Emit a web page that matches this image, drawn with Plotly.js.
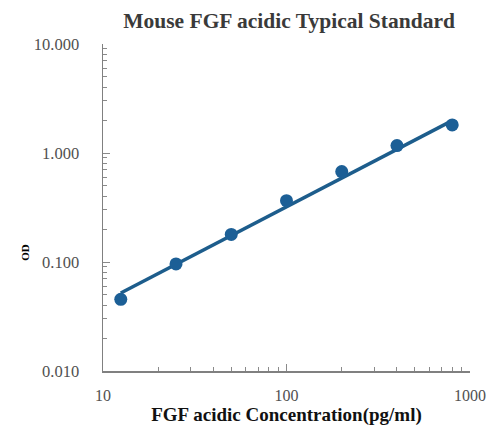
<!DOCTYPE html>
<html>
<head>
<meta charset="utf-8">
<script src="https://cdn.plot.ly/plotly-3.0.1.min.js"></script>
<style>html,body{margin:0;padding:0;background:#fff;}#chart{width:489px;height:428px;}</style>
</head>
<body>
<div id="chart"></div>
<script>
// Data
const concentration = [12.5, 25, 50, 100, 200, 400, 800];
const od = [0.0455, 0.096, 0.179, 0.365, 0.675, 1.17, 1.81];
// Fitted line end points
const fitX = [12.5, 800];
const fitY = [0.052, 1.98];
const xTickVals = [10, 100, 1000];
const xTickText = ["10", "100", "1000"];
const yTickVals = [0.01, 0.1, 1, 10];
const yTickText = ["0.010", "0.100", "1.000", "10.000"];
const minorDigits = [1, 2, 3, 4, 5, 6, 7, 8, 9];

// all tick positions (major + minor); labels only on decades
function allTicks(decades, last, majors, labels) {
  const vals = [], text = [];
  decades.forEach(d => minorDigits.forEach(m => {
    const v = d * m;
    vals.push(v);
    const i = majors.findIndex(t => Math.abs(t - v) / t < 1e-9);
    text.push(i >= 0 ? labels[i] : "");
  }));
  vals.push(last); text.push(labels[labels.length - 1]);
  return {vals, text};
}
const xAll = allTicks([10, 100], 1000, xTickVals, xTickText);
const yAll = allTicks([0.01, 0.1, 1], 10, yTickVals, yTickText);

const serif = "Liberation Serif, Times New Roman, serif";
const blue = "#1c5f96";

const traces = [
  {x: fitX, y: fitY, mode: "lines", type: "scatter",
   line: {color: "#1d5d8c", width: 3.5}, hoverinfo: "skip", showlegend: false},
  {x: concentration, y: od, mode: "markers", type: "scatter",
   marker: {color: blue, size: 13}, showlegend: false},
  {x: [10], y: [0.01], xaxis: "x2", yaxis: "y2", mode: "markers", type: "scatter",
   marker: {opacity: 0}, hoverinfo: "skip", showlegend: false}
];

const layout = {
  width: 489, height: 428,
  margin: {l: 103, r: 19, t: 44, b: 57},
  paper_bgcolor: "#fff", plot_bgcolor: "#fff",
  title: {text: "<b>Mouse FGF acidic Typical Standard</b>", x: 0.507, xref: "paper", xanchor: "center",
          y: 0.952, yanchor: "middle",
          font: {family: serif, size: 21.5, color: "#3a3a3a"}},
  xaxis: {
    type: "log", range: [1, 3],
    tickvals: xAll.vals, ticktext: xAll.text,
    showgrid: false, zeroline: false,
    showline: true, linecolor: "#808080", linewidth: 1.5,
    ticks: "inside", ticklen: 4, tickcolor: "#8a8a8a", tickwidth: 1,
    tickfont: {family: serif, size: 16, color: "#505050"},
    ticklabelstandoff: 9,
    title: {text: "<b>FGF acidic Concentration(pg/ml)</b>", standoff: 4,
            font: {family: serif, size: 19, color: "#111"}}
  },
  xaxis2: {
    type: "log", range: [1, 3], overlaying: "x", anchor: "y",
    tickvals: xTickVals, showticklabels: false, showgrid: false, zeroline: false, showline: false,
    ticks: "inside", ticklen: 7, tickcolor: "#8a8a8a", tickwidth: 1
  },
  yaxis: {
    type: "log", range: [-2, 1],
    tickvals: yAll.vals, ticktext: yAll.text,
    showgrid: false, zeroline: false,
    showline: true, linecolor: "#808080", linewidth: 1.5,
    ticks: "inside", ticklen: 4, tickcolor: "#8a8a8a", tickwidth: 1,
    tickfont: {family: serif, size: 16.5, color: "#505050"},
    ticklabelstandoff: 19
  },
  yaxis2: {
    type: "log", range: [-2, 1], overlaying: "y", anchor: "x",
    tickvals: yTickVals, showticklabels: false, showgrid: false, zeroline: false, showline: false,
    ticks: "inside", ticklen: 7, tickcolor: "#8a8a8a", tickwidth: 1
  },
  annotations: [{
    text: "<b>OD</b>", xref: "paper", yref: "paper", x: -0.235, y: 0.364,
    showarrow: false, textangle: -90, font: {family: serif, size: 11, color: "#000"}
  }]
};

Plotly.newPlot("chart", traces, layout, {displayModeBar: false, staticPlot: true});
</script>
</body>
</html>
